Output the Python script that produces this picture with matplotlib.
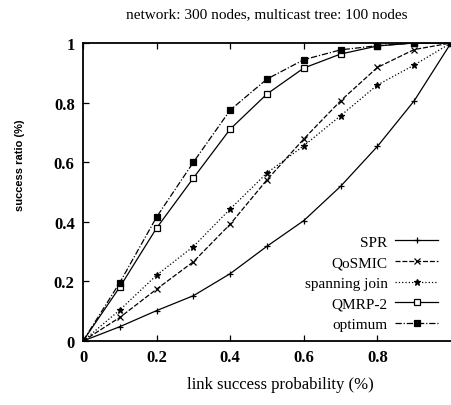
import matplotlib
matplotlib.use('Agg')
import matplotlib.pyplot as plt

# link success probability
x = [0.0, 0.1, 0.2, 0.3, 0.4, 0.5, 0.6, 0.7, 0.8, 0.9, 1.0]

spr = [0.0, 0.048, 0.102, 0.152, 0.226, 0.318, 0.404, 0.519, 0.653, 0.806, 1.0]
qosmic = [0.0, 0.079, 0.174, 0.266, 0.392, 0.541, 0.678, 0.806, 0.918, 0.978, 1.0]
spanning = [0.0, 0.104, 0.221, 0.317, 0.443, 0.564, 0.655, 0.756, 0.859, 0.926, 1.0]
qmrp2 = [0.0, 0.181, 0.379, 0.547, 0.711, 0.829, 0.916, 0.963, 0.990, 1.0, 1.0]
optimum = [0.0, 0.196, 0.416, 0.600, 0.775, 0.879, 0.944, 0.977, 0.991, 1.0, 1.0]

xticks = [0, 0.2, 0.4, 0.6, 0.8]
xtick_labels = ['0', '0.2', '0.4', '0.6', '0.8']
yticks = [0, 0.2, 0.4, 0.6, 0.8, 1.0]
ytick_labels = ['0', '0.2', '0.4', '0.6', '0.8', '1']

plt.rcParams['font.family'] = ['Liberation Serif', 'DejaVu Serif']

fig = plt.figure(figsize=(4.51, 4.06), dpi=100)
ax = fig.add_axes([83 / 451, 64 / 406, 1 - 83 / 451, 298 / 406])

k = dict(color='black', lw=0.9, ms=4.5, mew=0.9)
ax.plot(x, spr, '-', marker='+', label='SPR', **k)
ax.plot(x, qosmic, linestyle=(0, (4, 1.5)), marker='x', label='QoSMIC', **k)
ax.plot(x, spanning, ':', marker='*', label='spanning join', **k)
ax.plot(x, qmrp2, '-', marker='s', mfc='white', ms=4, mew=0.9, color='black', lw=0.9, label='QMRP-2')
ax.plot(x, optimum, linestyle=(0, (5, 1.5, 1, 1.5)), marker='s', ms=4, color='black', lw=0.9, mew=0.9, label='optimum')

ax.set_xlim(0, 1)
ax.set_ylim(0, 1)
ax.set_xticks(xticks)
ax.set_xticklabels(xtick_labels, fontsize=12, fontweight='bold')
ax.set_yticks(yticks)
ax.set_yticklabels(ytick_labels, fontsize=12, fontweight='bold')
ax.tick_params(direction='in', length=4, width=0.9, top=True, right=False, pad=6)
ax.spines['right'].set_visible(False)
for s in ['left', 'top', 'bottom']:
    ax.spines[s].set_linewidth(1.3)

fig.text(267 / 451, 1 - 15 / 406, 'network: 300 nodes, multicast tree: 100 nodes',
         ha='center', va='center', fontsize=11)
fig.text(280 / 451, 1 - 385 / 406, 'link success probability (%)',
         ha='center', va='center', fontsize=12)
fig.text(20 / 451, 1 - 165 / 406, 'success ratio (%)', rotation=90,
         ha='center', va='center', fontsize=8, fontweight='bold',
         family='Liberation Sans')

leg = ax.legend(loc='lower right', bbox_to_anchor=(438 / 451, (406 - 332) / 406),
                bbox_transform=fig.transFigure, frameon=False, markerfirst=False,
                fontsize=11, handlelength=2.8, handletextpad=0.5, labelspacing=0.45,
                borderpad=0, borderaxespad=0)

plt.savefig('out.png', dpi=100)
